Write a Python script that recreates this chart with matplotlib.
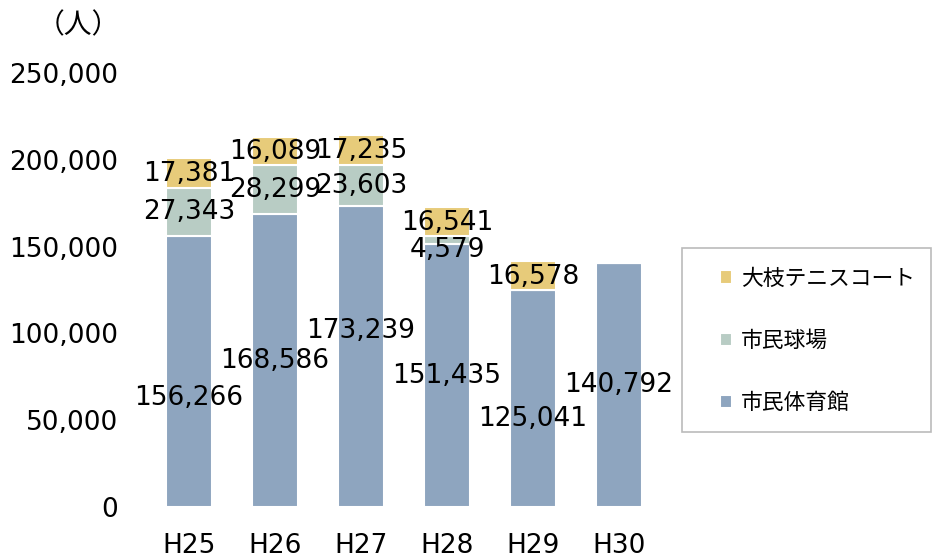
import matplotlib
matplotlib.use("Agg")
import matplotlib.pyplot as plt
from matplotlib.ticker import FuncFormatter
from matplotlib.patches import Rectangle
import numpy as np

plt.rcParams['font.family'] = ['DejaVu Sans', 'Noto Sans CJK JP']

years = ["H25", "H26", "H27", "H28", "H29", "H30"]
gym = [156266, 168586, 173239, 151435, 125041, 140792]
ball = [27343, 28299, 23603, 4579, 0, 0]
tennis = [17381, 16089, 17235, 16541, 16578, 0]
series_names = ["市民体育館", "市民球場", "大枝テニスコート"]
colors = ["#8EA5BF", "#B8CCC4", "#E7CB7A"]

# label pixel offsets (layout adjustments)
gym_dy = [-27, 0, 26, 0, -21, 0]
ball_dy = [0, 0, 0, -10, 0, 0]

fig = plt.figure(figsize=(9.32, 5.58), dpi=100)
ax = fig.add_axes([146/932, 1-507/558, (662-146)/932, (507-73)/558])

x = np.arange(len(years))
w = 0.53
b1 = ax.bar(x, gym, w, color=colors[0], edgecolor="white", linewidth=1.5, label=series_names[0])
b2 = ax.bar(x, ball, w, bottom=gym, color=colors[1], edgecolor="white", linewidth=1.5, label=series_names[1])
bot3 = np.array(gym) + np.array(ball)
b3 = ax.bar(x, tennis, w, bottom=bot3, color=colors[2], edgecolor="white", linewidth=1.5, label=series_names[2])

fs = 19
for i in range(len(years)):
    ax.annotate(f"{gym[i]:,}", (x[i], gym[i] / 2), xytext=(0, gym_dy[i]),
                textcoords="offset pixels", ha="center", va="center", fontsize=fs)
    if ball[i] > 0:
        ax.annotate(f"{ball[i]:,}", (x[i], gym[i] + ball[i] / 2), xytext=(0, ball_dy[i]),
                    textcoords="offset pixels", ha="center", va="center", fontsize=fs)
    if tennis[i] > 0:
        ax.annotate(f"{tennis[i]:,}", (x[i], bot3[i] + tennis[i] / 2), xytext=(0, -1),
                    textcoords="offset pixels", ha="center", va="center", fontsize=fs)

ax.set_xlim(-0.5, len(years) - 0.5)
ax.set_ylim(0, 250000)
ax.set_yticks(np.arange(0, 250001, 50000))
ax.yaxis.set_major_formatter(FuncFormatter(lambda v, p: f"{int(v):,}"))
ax.set_xticks(x)
ax.set_xticklabels(years)
ax.tick_params(axis="both", length=0, labelsize=fs)
ax.tick_params(axis="y", pad=20)
ax.tick_params(axis="x", pad=19)
for s in ax.spines.values():
    s.set_visible(False)

fig.text(78/932, 1-25/558, "（人）", ha="center", va="center", fontsize=20,
         family=['Noto Sans CJK JP', 'DejaVu Sans'])

# legend frame
fig.patches.append(Rectangle((682/932, 1-432/558), (931-682)/932, (432-248)/558,
                             transform=fig.transFigure, fill=False,
                             edgecolor="#BBBBBB", linewidth=1.2))

handles = [b3, b2, b1]
leg = fig.legend(handles, [series_names[2], series_names[1], series_names[0]],
                 loc="center left", bbox_to_anchor=(713/932, 1-341/558),
                 prop={'family': ['Noto Sans CJK JP', 'DejaVu Sans'], 'size': 15.7},
                 frameon=False,
                 handlelength=0.55, handleheight=0.55, handletextpad=0.45,
                 labelspacing=1.85, borderpad=0.3, borderaxespad=0)

fig.savefig("out.png", dpi=100)
